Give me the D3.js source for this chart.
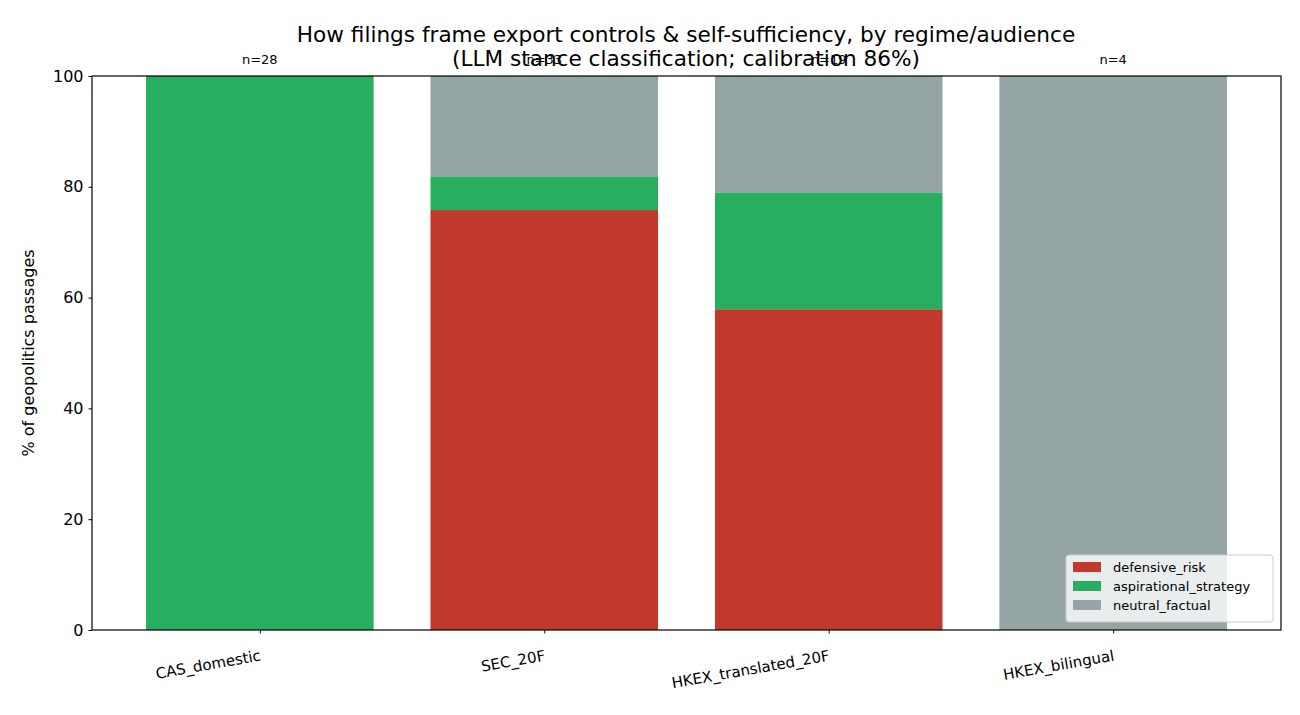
<!DOCTYPE html>
<html><head><meta charset="utf-8">
<script src="https://cdn.jsdelivr.net/npm/d3@7"></script>
<style>body{margin:0;background:#fff;font-family:"DejaVu Sans",sans-serif}</style>
</head><body>
<script>
var categories = ["CAS_domestic", "SEC_20F", "HKEX_translated_20F", "HKEX_bilingual"];
var counts = [28, 33, 19, 4];
var defensive = [0, 75.8, 57.9, 0];
var aspirational = [100, 6.1, 21.1, 0];
var neutral = [0, 18.1, 21.0, 100];
var seriesNames = ["defensive_risk", "aspirational_strategy", "neutral_factual"];
var colors = ["#c0392b", "#27ae60", "#95a5a6"];
var yTicks = [0, 20, 40, 60, 80, 100];

drawChart();

function drawChart() {
    var width = 1300, height = 715;
    var svg = d3.select("body").append("svg").attr("width", width).attr("height", height);

    var mLeft = 92, mRight = 1281, mTop = 76, mBottom = 630;
    var x = d3.scaleLinear().domain([-0.59, 3.59]).range([mLeft, mRight]);
    var y = d3.scaleLinear().domain([0, 100]).range([mBottom, mTop]);
    var bw = x(0.8) - x(0);

    var rows = categories.map(function(c, i){
        return {cat: c, i: i, defensive_risk: defensive[i], aspirational_strategy: aspirational[i], neutral_factual: neutral[i]};
    });
    var stacked = d3.stack().keys(seriesNames)(rows);

    stacked.forEach(function(s, k){
        svg.selectAll(".b" + k).data(s).enter().append("rect")
            .attr("x", function(d){ return x(d.data.i) - bw / 2; })
            .attr("width", bw)
            .attr("y", function(d){ return y(d[1]); })
            .attr("height", function(d){ return y(d[0]) - y(d[1]); })
            .attr("fill", colors[k]);
    });

    //axes
    var yAxis = svg.append("g").attr("transform", "translate(" + mLeft + ",0)")
        .call(d3.axisLeft(y).tickValues(yTicks).tickSize(3.5).tickPadding(5));
    yAxis.selectAll("text").attr("font-size", 16).attr("font-family", "DejaVu Sans").attr("fill", "#000");
    var xAxis = svg.append("g").attr("transform", "translate(0," + mBottom + ")")
        .call(d3.axisBottom(x).tickValues([0, 1, 2, 3]).tickFormat(function(d){ return categories[d]; }).tickSize(3.5));
    xAxis.selectAll("text").attr("font-size", 15).attr("font-family", "DejaVu Sans").attr("fill", "#000")
        .attr("text-anchor", "end").attr("dy", null)
        .attr("transform", "translate(0,24) rotate(-10)");
    svg.selectAll(".domain").remove();
    svg.append("rect").attr("x", mLeft).attr("y", mTop).attr("width", mRight - mLeft).attr("height", mBottom - mTop)
        .attr("fill", "none").attr("stroke", "#000").attr("stroke-width", 1.2);

    //n labels
    svg.selectAll(".n").data(counts).enter().append("text")
        .attr("x", function(d, i){ return x(i); }).attr("y", 64)
        .attr("text-anchor", "middle").attr("font-size", 13).text(function(d){ return "n=" + d; });

    svg.append("text").attr("x", 686).attr("y", 42).attr("text-anchor", "middle").attr("font-size", 21.6)
        .text("How filings frame export controls & self-sufficiency, by regime/audience");
    svg.append("text").attr("x", 686).attr("y", 66).attr("text-anchor", "middle").attr("font-size", 21.6)
        .text("(LLM stance classification; calibration 86%)");
    svg.append("text").attr("transform", "translate(34,353) rotate(-90)").attr("text-anchor", "middle")
        .attr("font-size", 16).text("% of geopolitics passages");

    //legend
    var lg = svg.append("g").attr("transform", "translate(1066,555)");
    lg.append("rect").attr("width", 207).attr("height", 67).attr("rx", 3).attr("fill", "#fff")
        .attr("fill-opacity", 0.8).attr("stroke", "#ccc");
    seriesNames.forEach(function(s, k){
        lg.append("rect").attr("x", 7).attr("y", 7 + k * 19).attr("width", 28).attr("height", 10).attr("fill", colors[k]);
        lg.append("text").attr("x", 47).attr("y", 17 + k * 19).attr("font-size", 13).text(s);
    });
}
</script>
</body></html>
